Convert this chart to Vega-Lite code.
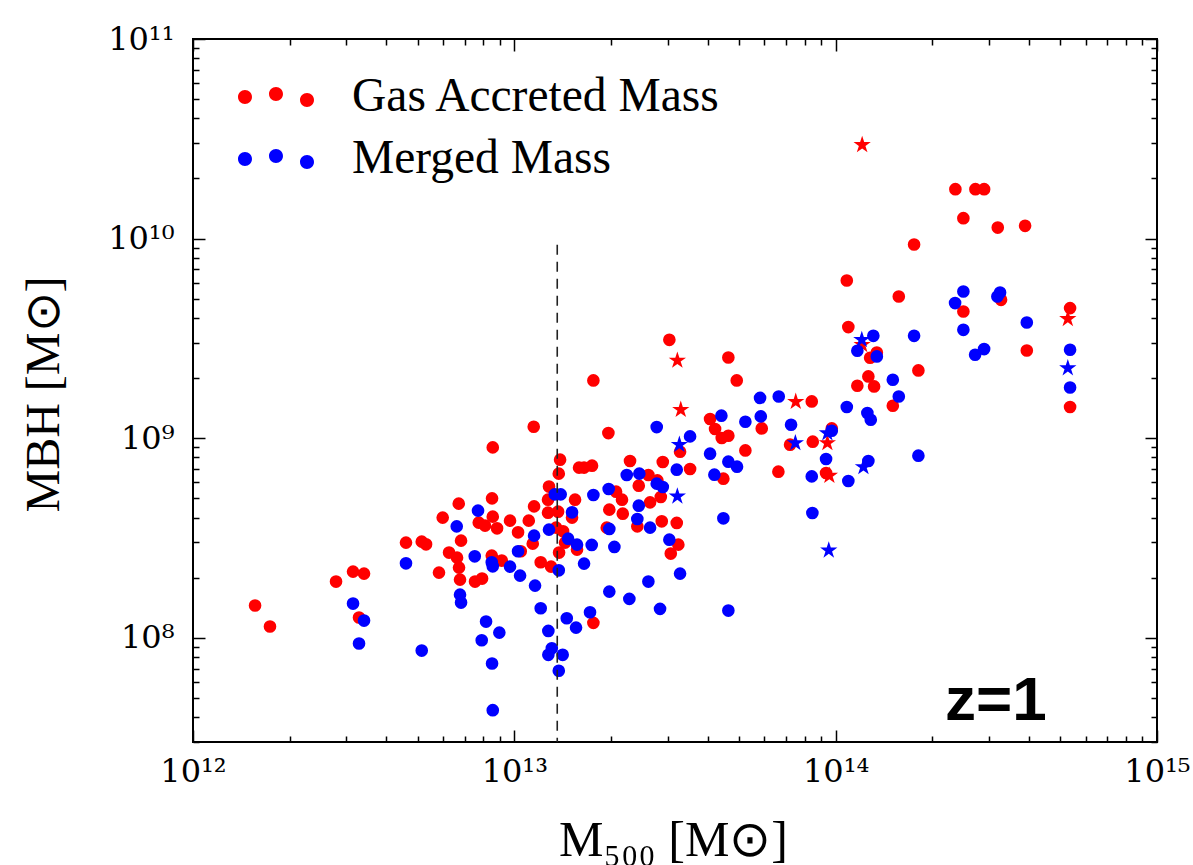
{
  "$schema": "https://vega.github.io/schema/vega-lite/v6.json",
  "width": 964,
  "height": 703,
  "autosize": {"type": "none"},
  "padding": {"left": 193, "top": 39, "right": 36, "bottom": 123},
  "background": "white",
  "config": {
    "view": {"stroke": "black", "strokeWidth": 2},
    "axis": {"grid": false, "ticks": true, "domain": false, "offset": -12, "tickSize": 12, "tickColor": "black", "tickWidth": 1.5, "tickOpacity": 1, "labelFont": "DejaVu Serif", "titleFont": "Liberation Serif", "labelColor": "black", "titleColor": "black", "titleFontWeight": "normal"}
  },
  "datasets": {
    "pts": [
      {"m500":1.56e12,"mbh":1.449e8,"series":"Gas Accreted Mass","marker":"circle"},
      {"m500":1.736e12,"mbh":1.138e8,"series":"Gas Accreted Mass","marker":"circle"},
      {"m500":2.787e12,"mbh":1.91e8,"series":"Gas Accreted Mass","marker":"circle"},
      {"m500":3.148e12,"mbh":2.143e8,"series":"Gas Accreted Mass","marker":"circle"},
      {"m500":3.406e12,"mbh":2.094e8,"series":"Gas Accreted Mass","marker":"circle"},
      {"m500":3.286e12,"mbh":1.262e8,"series":"Gas Accreted Mass","marker":"circle"},
      {"m500":1.149e13,"mbh":1.14e9,"series":"Gas Accreted Mass","marker":"circle"},
      {"m500":8.568e12,"mbh":8.985e8,"series":"Gas Accreted Mass","marker":"circle"},
      {"m500":1.388e13,"mbh":7.798e8,"series":"Gas Accreted Mass","marker":"circle"},
      {"m500":1.375e13,"mbh":6.637e8,"series":"Gas Accreted Mass","marker":"circle"},
      {"m500":1.282e13,"mbh":5.715e8,"series":"Gas Accreted Mass","marker":"circle"},
      {"m500":1.59e13,"mbh":7.112e8,"series":"Gas Accreted Mass","marker":"circle"},
      {"m500":6.714e12,"mbh":4.695e8,"series":"Gas Accreted Mass","marker":"circle"},
      {"m500":8.524e12,"mbh":4.989e8,"series":"Gas Accreted Mass","marker":"circle"},
      {"m500":1.152e13,"mbh":4.55e8,"series":"Gas Accreted Mass","marker":"circle"},
      {"m500":1.273e13,"mbh":4.915e8,"series":"Gas Accreted Mass","marker":"circle"},
      {"m500":5.985e12,"mbh":3.995e8,"series":"Gas Accreted Mass","marker":"circle"},
      {"m500":8.568e12,"mbh":4.041e8,"series":"Gas Accreted Mass","marker":"circle"},
      {"m500":7.749e12,"mbh":3.771e8,"series":"Gas Accreted Mass","marker":"circle"},
      {"m500":8.107e12,"mbh":3.642e8,"series":"Gas Accreted Mass","marker":"circle"},
      {"m500":8.836e12,"mbh":3.53e8,"series":"Gas Accreted Mass","marker":"circle"},
      {"m500":9.696e12,"mbh":3.858e8,"series":"Gas Accreted Mass","marker":"circle"},
      {"m500":1.109e13,"mbh":3.858e8,"series":"Gas Accreted Mass","marker":"circle"},
      {"m500":1.027e13,"mbh":3.372e8,"series":"Gas Accreted Mass","marker":"circle"},
      {"m500":1.273e13,"mbh":4.23e8,"series":"Gas Accreted Mass","marker":"circle"},
      {"m500":1.545e13,"mbh":4.915e8,"series":"Gas Accreted Mass","marker":"circle"},
      {"m500":1.512e13,"mbh":3.995e8,"series":"Gas Accreted Mass","marker":"circle"},
      {"m500":4.601e12,"mbh":2.994e8,"series":"Gas Accreted Mass","marker":"circle"},
      {"m500":5.15e12,"mbh":3.028e8,"series":"Gas Accreted Mass","marker":"circle"},
      {"m500":5.312e12,"mbh":2.935e8,"series":"Gas Accreted Mass","marker":"circle"},
      {"m500":6.826e12,"mbh":3.063e8,"series":"Gas Accreted Mass","marker":"circle"},
      {"m500":1.141e13,"mbh":2.959e8,"series":"Gas Accreted Mass","marker":"circle"},
      {"m500":1.418e13,"mbh":3.411e8,"series":"Gas Accreted Mass","marker":"circle"},
      {"m500":1.438e13,"mbh":2.994e8,"series":"Gas Accreted Mass","marker":"circle"},
      {"m500":6.264e12,"mbh":2.669e8,"series":"Gas Accreted Mass","marker":"circle"},
      {"m500":6.633e12,"mbh":2.518e8,"series":"Gas Accreted Mass","marker":"circle"},
      {"m500":8.506e12,"mbh":2.577e8,"series":"Gas Accreted Mass","marker":"circle"},
      {"m500":9.138e12,"mbh":2.434e8,"series":"Gas Accreted Mass","marker":"circle"},
      {"m500":1.047e13,"mbh":2.709e8,"series":"Gas Accreted Mass","marker":"circle"},
      {"m500":1.378e13,"mbh":2.669e8,"series":"Gas Accreted Mass","marker":"circle"},
      {"m500":1.208e13,"mbh":2.386e8,"series":"Gas Accreted Mass","marker":"circle"},
      {"m500":1.301e13,"mbh":2.27e8,"series":"Gas Accreted Mass","marker":"circle"},
      {"m500":6.728e12,"mbh":2.244e8,"series":"Gas Accreted Mass","marker":"circle"},
      {"m500":5.828e12,"mbh":2.118e8,"series":"Gas Accreted Mass","marker":"circle"},
      {"m500":6.776e12,"mbh":1.954e8,"series":"Gas Accreted Mass","marker":"circle"},
      {"m500":7.546e12,"mbh":1.91e8,"series":"Gas Accreted Mass","marker":"circle"},
      {"m500":7.935e12,"mbh":1.977e8,"series":"Gas Accreted Mass","marker":"circle"},
      {"m500":1.567e13,"mbh":2.762e8,"series":"Gas Accreted Mass","marker":"circle"},
      {"m500":3.037e13,"mbh":3.109e9,"series":"Gas Accreted Mass","marker":"circle"},
      {"m500":4.635e13,"mbh":2.536e9,"series":"Gas Accreted Mass","marker":"circle"},
      {"m500":4.922e13,"mbh":1.945e9,"series":"Gas Accreted Mass","marker":"circle"},
      {"m500":1.762e13,"mbh":1.945e9,"series":"Gas Accreted Mass","marker":"circle"},
      {"m500":1.962e13,"mbh":1.06e9,"series":"Gas Accreted Mass","marker":"circle"},
      {"m500":4.066e13,"mbh":1.246e9,"series":"Gas Accreted Mass","marker":"circle"},
      {"m500":4.214e13,"mbh":1.111e9,"series":"Gas Accreted Mass","marker":"circle"},
      {"m500":4.421e13,"mbh":1.001e9,"series":"Gas Accreted Mass","marker":"circle"},
      {"m500":4.635e13,"mbh":1.028e9,"series":"Gas Accreted Mass","marker":"circle"},
      {"m500":3.279e13,"mbh":8.551e8,"series":"Gas Accreted Mass","marker":"circle"},
      {"m500":5.236e13,"mbh":8.677e8,"series":"Gas Accreted Mass","marker":"circle"},
      {"m500":3.523e13,"mbh":7.004e8,"series":"Gas Accreted Mass","marker":"circle"},
      {"m500":4.472e13,"mbh":6.263e8,"series":"Gas Accreted Mass","marker":"circle"},
      {"m500":2.291e13,"mbh":7.68e8,"series":"Gas Accreted Mass","marker":"circle"},
      {"m500":2.897e13,"mbh":7.592e8,"series":"Gas Accreted Mass","marker":"circle"},
      {"m500":1.648e13,"mbh":7.112e8,"series":"Gas Accreted Mass","marker":"circle"},
      {"m500":1.745e13,"mbh":7.275e8,"series":"Gas Accreted Mass","marker":"circle"},
      {"m500":2.613e13,"mbh":6.535e8,"series":"Gas Accreted Mass","marker":"circle"},
      {"m500":2.787e13,"mbh":6.141e8,"series":"Gas Accreted Mass","marker":"circle"},
      {"m500":2.439e13,"mbh":5.777e8,"series":"Gas Accreted Mass","marker":"circle"},
      {"m500":2.073e13,"mbh":5.391e8,"series":"Gas Accreted Mass","marker":"circle"},
      {"m500":2.163e13,"mbh":4.915e8,"series":"Gas Accreted Mass","marker":"circle"},
      {"m500":1.975e13,"mbh":4.38e8,"series":"Gas Accreted Mass","marker":"circle"},
      {"m500":2.175e13,"mbh":4.182e8,"series":"Gas Accreted Mass","marker":"circle"},
      {"m500":2.645e13,"mbh":4.764e8,"series":"Gas Accreted Mass","marker":"circle"},
      {"m500":2.856e13,"mbh":5.071e8,"series":"Gas Accreted Mass","marker":"circle"},
      {"m500":2.414e13,"mbh":3.612e8,"series":"Gas Accreted Mass","marker":"circle"},
      {"m500":1.939e13,"mbh":3.559e8,"series":"Gas Accreted Mass","marker":"circle"},
      {"m500":2.876e13,"mbh":3.827e8,"series":"Gas Accreted Mass","marker":"circle"},
      {"m500":3.202e13,"mbh":3.757e8,"series":"Gas Accreted Mass","marker":"circle"},
      {"m500":3.239e13,"mbh":2.925e8,"series":"Gas Accreted Mass","marker":"circle"},
      {"m500":3.068e13,"mbh":2.638e8,"series":"Gas Accreted Mass","marker":"circle"},
      {"m500":1.762e13,"mbh":1.186e8,"series":"Gas Accreted Mass","marker":"circle"},
      {"m500":1.754e14,"mbh":9.333e9,"series":"Gas Accreted Mass","marker":"circle"},
      {"m500":1.083e14,"mbh":6.163e9,"series":"Gas Accreted Mass","marker":"circle"},
      {"m500":1.572e14,"mbh":5.124e9,"series":"Gas Accreted Mass","marker":"circle"},
      {"m500":1.095e14,"mbh":3.6e9,"series":"Gas Accreted Mass","marker":"circle"},
      {"m500":1.809e14,"mbh":2.183e9,"series":"Gas Accreted Mass","marker":"circle"},
      {"m500":1.264e14,"mbh":2.037e9,"series":"Gas Accreted Mass","marker":"circle"},
      {"m500":1.168e14,"mbh":1.83e9,"series":"Gas Accreted Mass","marker":"circle"},
      {"m500":1.317e14,"mbh":1.815e9,"series":"Gas Accreted Mass","marker":"circle"},
      {"m500":1.506e14,"mbh":1.453e9,"series":"Gas Accreted Mass","marker":"circle"},
      {"m500":1.28e14,"mbh":2.527e9,"series":"Gas Accreted Mass","marker":"circle"},
      {"m500":1.343e14,"mbh":2.686e9,"series":"Gas Accreted Mass","marker":"circle"},
      {"m500":8.426e13,"mbh":1.527e9,"series":"Gas Accreted Mass","marker":"circle"},
      {"m500":5.888e13,"mbh":1.118e9,"series":"Gas Accreted Mass","marker":"circle"},
      {"m500":7.213e13,"mbh":9.268e8,"series":"Gas Accreted Mass","marker":"circle"},
      {"m500":8.486e13,"mbh":9.594e8,"series":"Gas Accreted Mass","marker":"circle"},
      {"m500":9.725e13,"mbh":1.118e9,"series":"Gas Accreted Mass","marker":"circle"},
      {"m500":6.633e13,"mbh":6.787e8,"series":"Gas Accreted Mass","marker":"circle"},
      {"m500":9.335e13,"mbh":6.686e8,"series":"Gas Accreted Mass","marker":"circle"},
      {"m500":2.358e14,"mbh":1.768e10,"series":"Gas Accreted Mass","marker":"circle"},
      {"m500":2.722e14,"mbh":1.768e10,"series":"Gas Accreted Mass","marker":"circle"},
      {"m500":2.897e14,"mbh":1.768e10,"series":"Gas Accreted Mass","marker":"circle"},
      {"m500":2.497e14,"mbh":1.265e10,"series":"Gas Accreted Mass","marker":"circle"},
      {"m500":3.195e14,"mbh":1.135e10,"series":"Gas Accreted Mass","marker":"circle"},
      {"m500":3.886e14,"mbh":1.158e10,"series":"Gas Accreted Mass","marker":"circle"},
      {"m500":2.497e14,"mbh":4.309e9,"series":"Gas Accreted Mass","marker":"circle"},
      {"m500":3.271e14,"mbh":4.932e9,"series":"Gas Accreted Mass","marker":"circle"},
      {"m500":5.364e14,"mbh":4.481e9,"series":"Gas Accreted Mass","marker":"circle"},
      {"m500":3.934e14,"mbh":2.749e9,"series":"Gas Accreted Mass","marker":"circle"},
      {"m500":5.364e14,"mbh":1.431e9,"series":"Gas Accreted Mass","marker":"circle"},
      {"m500":1.368e13,"mbh":4.28e8,"series":"Gas Accreted Mass","marker":"circle"},
      {"m500":1.349e13,"mbh":3.559e8,"series":"Gas Accreted Mass","marker":"circle"},
      {"m500":3.216e13,"mbh":2.449e9,"series":"Gas Accreted Mass","marker":"star"},
      {"m500":3.296e13,"mbh":1.388e9,"series":"Gas Accreted Mass","marker":"star"},
      {"m500":7.512e13,"mbh":1.522e9,"series":"Gas Accreted Mass","marker":"star"},
      {"m500":9.424e13,"mbh":9.452e8,"series":"Gas Accreted Mass","marker":"star"},
      {"m500":9.559e13,"mbh":6.482e8,"series":"Gas Accreted Mass","marker":"star"},
      {"m500":1.209e14,"mbh":2.935e9,"series":"Gas Accreted Mass","marker":"star"},
      {"m500":1.209e14,"mbh":2.946e10,"series":"Gas Accreted Mass","marker":"star"},
      {"m500":5.278e14,"mbh":3.961e9,"series":"Gas Accreted Mass","marker":"star"},
      {"m500":3.148e12,"mbh":1.482e8,"series":"Merged Mass","marker":"circle"},
      {"m500":3.406e12,"mbh":1.218e8,"series":"Merged Mass","marker":"circle"},
      {"m500":3.286e12,"mbh":9.344e7,"series":"Merged Mass","marker":"circle"},
      {"m500":1.336e13,"mbh":5.225e8,"series":"Merged Mass","marker":"circle"},
      {"m500":1.394e13,"mbh":5.225e8,"series":"Merged Mass","marker":"circle"},
      {"m500":7.709e12,"mbh":4.33e8,"series":"Merged Mass","marker":"circle"},
      {"m500":6.618e12,"mbh":3.612e8,"series":"Merged Mass","marker":"circle"},
      {"m500":1.512e13,"mbh":4.246e8,"series":"Merged Mass","marker":"circle"},
      {"m500":1.282e13,"mbh":3.478e8,"series":"Merged Mass","marker":"circle"},
      {"m500":1.152e13,"mbh":3.245e8,"series":"Merged Mass","marker":"circle"},
      {"m500":1.47e13,"mbh":3.134e8,"series":"Merged Mass","marker":"circle"},
      {"m500":1.567e13,"mbh":2.925e8,"series":"Merged Mass","marker":"circle"},
      {"m500":1.027e13,"mbh":2.709e8,"series":"Merged Mass","marker":"circle"},
      {"m500":4.601e12,"mbh":2.358e8,"series":"Merged Mass","marker":"circle"},
      {"m500":7.53e12,"mbh":2.556e8,"series":"Merged Mass","marker":"circle"},
      {"m500":8.506e12,"mbh":2.386e8,"series":"Merged Mass","marker":"circle"},
      {"m500":8.568e12,"mbh":2.278e8,"series":"Merged Mass","marker":"circle"},
      {"m500":9.696e12,"mbh":2.27e8,"series":"Merged Mass","marker":"circle"},
      {"m500":1.042e13,"mbh":2.046e8,"series":"Merged Mass","marker":"circle"},
      {"m500":1.375e13,"mbh":2.175e8,"series":"Merged Mass","marker":"circle"},
      {"m500":1.648e13,"mbh":2.35e8,"series":"Merged Mass","marker":"circle"},
      {"m500":1.16e13,"mbh":1.823e8,"series":"Merged Mass","marker":"circle"},
      {"m500":6.776e12,"mbh":1.643e8,"series":"Merged Mass","marker":"circle"},
      {"m500":6.826e12,"mbh":1.499e8,"series":"Merged Mass","marker":"circle"},
      {"m500":1.208e13,"mbh":1.404e8,"series":"Merged Mass","marker":"circle"},
      {"m500":1.456e13,"mbh":1.251e8,"series":"Merged Mass","marker":"circle"},
      {"m500":1.556e13,"mbh":1.123e8,"series":"Merged Mass","marker":"circle"},
      {"m500":8.166e12,"mbh":1.204e8,"series":"Merged Mass","marker":"circle"},
      {"m500":8.981e12,"mbh":1.06e8,"series":"Merged Mass","marker":"circle"},
      {"m500":7.916e12,"mbh":9.705e7,"series":"Merged Mass","marker":"circle"},
      {"m500":1.276e13,"mbh":1.081e8,"series":"Merged Mass","marker":"circle"},
      {"m500":1.308e13,"mbh":8.851e7,"series":"Merged Mass","marker":"circle"},
      {"m500":1.276e13,"mbh":8.204e7,"series":"Merged Mass","marker":"circle"},
      {"m500":1.414e13,"mbh":8.204e7,"series":"Merged Mass","marker":"circle"},
      {"m500":5.15e12,"mbh":8.617e7,"series":"Merged Mass","marker":"circle"},
      {"m500":8.524e12,"mbh":7.419e7,"series":"Merged Mass","marker":"circle"},
      {"m500":1.375e13,"mbh":6.823e7,"series":"Merged Mass","marker":"circle"},
      {"m500":8.568e12,"mbh":4.33e7,"series":"Merged Mass","marker":"circle"},
      {"m500":2.774e13,"mbh":1.136e9,"series":"Merged Mass","marker":"circle"},
      {"m500":4.409e13,"mbh":1.295e9,"series":"Merged Mass","marker":"circle"},
      {"m500":5.236e13,"mbh":1.208e9,"series":"Merged Mass","marker":"circle"},
      {"m500":5.817e13,"mbh":1.59e9,"series":"Merged Mass","marker":"circle"},
      {"m500":5.847e13,"mbh":1.285e9,"series":"Merged Mass","marker":"circle"},
      {"m500":3.523e13,"mbh":1.02e9,"series":"Merged Mass","marker":"circle"},
      {"m500":4.066e13,"mbh":8.357e8,"series":"Merged Mass","marker":"circle"},
      {"m500":4.635e13,"mbh":7.618e8,"series":"Merged Mass","marker":"circle"},
      {"m500":4.932e13,"mbh":7.191e8,"series":"Merged Mass","marker":"circle"},
      {"m500":4.193e13,"mbh":6.557e8,"series":"Merged Mass","marker":"circle"},
      {"m500":3.202e13,"mbh":6.948e8,"series":"Merged Mass","marker":"circle"},
      {"m500":2.238e13,"mbh":6.535e8,"series":"Merged Mass","marker":"circle"},
      {"m500":2.449e13,"mbh":6.637e8,"series":"Merged Mass","marker":"circle"},
      {"m500":2.774e13,"mbh":5.913e8,"series":"Merged Mass","marker":"circle"},
      {"m500":2.897e13,"mbh":5.691e8,"series":"Merged Mass","marker":"circle"},
      {"m500":1.966e13,"mbh":5.561e8,"series":"Merged Mass","marker":"circle"},
      {"m500":1.762e13,"mbh":5.189e8,"series":"Merged Mass","marker":"circle"},
      {"m500":2.439e13,"mbh":4.586e8,"series":"Merged Mass","marker":"circle"},
      {"m500":2.414e13,"mbh":3.934e8,"series":"Merged Mass","marker":"circle"},
      {"m500":1.975e13,"mbh":3.506e8,"series":"Merged Mass","marker":"circle"},
      {"m500":2.645e13,"mbh":3.559e8,"series":"Merged Mass","marker":"circle"},
      {"m500":2.048e13,"mbh":2.849e8,"series":"Merged Mass","marker":"circle"},
      {"m500":1.741e13,"mbh":2.915e8,"series":"Merged Mass","marker":"circle"},
      {"m500":3.037e13,"mbh":3.098e8,"series":"Merged Mass","marker":"circle"},
      {"m500":3.279e13,"mbh":2.094e8,"series":"Merged Mass","marker":"circle"},
      {"m500":4.472e13,"mbh":3.962e8,"series":"Merged Mass","marker":"circle"},
      {"m500":2.613e13,"mbh":1.91e8,"series":"Merged Mass","marker":"circle"},
      {"m500":1.975e13,"mbh":1.701e8,"series":"Merged Mass","marker":"circle"},
      {"m500":2.28e13,"mbh":1.564e8,"series":"Merged Mass","marker":"circle"},
      {"m500":2.841e13,"mbh":1.394e8,"series":"Merged Mass","marker":"circle"},
      {"m500":4.635e13,"mbh":1.367e8,"series":"Merged Mass","marker":"circle"},
      {"m500":1.72e13,"mbh":1.34e8,"series":"Merged Mass","marker":"circle"},
      {"m500":6.651e13,"mbh":1.617e9,"series":"Merged Mass","marker":"circle"},
      {"m500":7.264e13,"mbh":1.167e9,"series":"Merged Mass","marker":"circle"},
      {"m500":9.725e13,"mbh":1.089e9,"series":"Merged Mass","marker":"circle"},
      {"m500":9.335e13,"mbh":7.859e8,"series":"Merged Mass","marker":"circle"},
      {"m500":8.426e13,"mbh":6.43e8,"series":"Merged Mass","marker":"circle"},
      {"m500":1.095e14,"mbh":6.099e8,"series":"Merged Mass","marker":"circle"},
      {"m500":1.083e14,"mbh":1.431e9,"series":"Merged Mass","marker":"circle"},
      {"m500":1.255e14,"mbh":1.336e9,"series":"Merged Mass","marker":"circle"},
      {"m500":1.286e14,"mbh":1.236e9,"series":"Merged Mass","marker":"circle"},
      {"m500":1.264e14,"mbh":7.68e8,"series":"Merged Mass","marker":"circle"},
      {"m500":8.463e13,"mbh":4.216e8,"series":"Merged Mass","marker":"circle"},
      {"m500":1.31e14,"mbh":3.256e9,"series":"Merged Mass","marker":"circle"},
      {"m500":1.168e14,"mbh":2.74e9,"series":"Merged Mass","marker":"circle"},
      {"m500":1.343e14,"mbh":2.566e9,"series":"Merged Mass","marker":"circle"},
      {"m500":1.754e14,"mbh":3.256e9,"series":"Merged Mass","marker":"circle"},
      {"m500":1.506e14,"mbh":1.961e9,"series":"Merged Mass","marker":"circle"},
      {"m500":1.572e14,"mbh":1.617e9,"series":"Merged Mass","marker":"circle"},
      {"m500":1.809e14,"mbh":8.167e8,"series":"Merged Mass","marker":"circle"},
      {"m500":2.497e14,"mbh":5.428e9,"series":"Merged Mass","marker":"circle"},
      {"m500":2.353e14,"mbh":4.749e9,"series":"Merged Mass","marker":"circle"},
      {"m500":2.497e14,"mbh":3.489e9,"series":"Merged Mass","marker":"circle"},
      {"m500":3.248e14,"mbh":5.366e9,"series":"Merged Mass","marker":"circle"},
      {"m500":3.186e14,"mbh":5.124e9,"series":"Merged Mass","marker":"circle"},
      {"m500":3.934e14,"mbh":3.796e9,"series":"Merged Mass","marker":"circle"},
      {"m500":2.716e14,"mbh":2.616e9,"series":"Merged Mass","marker":"circle"},
      {"m500":2.897e14,"mbh":2.794e9,"series":"Merged Mass","marker":"circle"},
      {"m500":5.364e14,"mbh":2.772e9,"series":"Merged Mass","marker":"circle"},
      {"m500":5.364e14,"mbh":1.794e9,"series":"Merged Mass","marker":"circle"},
      {"m500":3.263e13,"mbh":9.268e8,"series":"Merged Mass","marker":"star"},
      {"m500":3.216e13,"mbh":5.106e8,"series":"Merged Mass","marker":"star"},
      {"m500":7.492e13,"mbh":9.452e8,"series":"Merged Mass","marker":"star"},
      {"m500":9.424e13,"mbh":1.06e9,"series":"Merged Mass","marker":"star"},
      {"m500":1.22e14,"mbh":7.166e8,"series":"Merged Mass","marker":"star"},
      {"m500":9.518e13,"mbh":2.74e8,"series":"Merged Mass","marker":"star"},
      {"m500":1.206e14,"mbh":3.109e9,"series":"Merged Mass","marker":"star"},
      {"m500":5.278e14,"mbh":2.244e9,"series":"Merged Mass","marker":"star"}
    ]
  },
  "layer": [
    {
      "data": {"name": "pts"},
      "mark": {"type": "point", "filled": true, "opacity": 1, "strokeWidth": 0},
      "encoding": {
        "x": {"field": "m500", "type": "quantitative",
          "scale": {"type": "log", "domain": [1e12, 1e15], "nice": false},
          "axis": {"orient": "bottom",
            "values": [1e12,2e12,3e12,4e12,5e12,6e12,7e12,8e12,9e12,1e13,2e13,3e13,4e13,5e13,6e13,7e13,8e13,9e13,1e14,2e14,3e14,4e14,5e14,6e14,7e14,8e14,9e14,1e15],
            "labelExpr": "datum.value == 1e12 ? '10¹²' : datum.value == 1e13 ? '10¹³' : datum.value == 1e14 ? '10¹⁴' : datum.value == 1e15 ? '10¹⁵' : ''",
            "tickDash": {"condition": {"test": "datum.value == 1e12 || datum.value == 1e13 || datum.value == 1e14 || datum.value == 1e15", "value": [20]}, "value": [0, 6, 6]},
            "labelFontSize": 32, "labelPadding": 14, "labelOverlap": false, "labelFlush": false,
            "title": "M₅₀₀ [M⊙]", "titleFontSize": 50, "titleX": 480, "titleY": 125, "titleBaseline": "alphabetic", "titleAlign": "center"}},
        "y": {"field": "mbh", "type": "quantitative",
          "scale": {"type": "log", "domain": [3e7, 1e11], "nice": false},
          "axis": {"orient": "left",
            "values": [3e7,4e7,5e7,6e7,7e7,8e7,9e7,1e8,2e8,3e8,4e8,5e8,6e8,7e8,8e8,9e8,1e9,2e9,3e9,4e9,5e9,6e9,7e9,8e9,9e9,1e10,2e10,3e10,4e10,5e10,6e10,7e10,8e10,9e10,1e11],
            "labelExpr": "datum.value == 1e8 ? '10⁸' : datum.value == 1e9 ? '10⁹' : datum.value == 1e10 ? '10¹⁰' : datum.value == 1e11 ? '10¹¹' : ''",
            "tickDash": {"condition": {"test": "datum.value == 1e8 || datum.value == 1e9 || datum.value == 1e10 || datum.value == 1e11", "value": [20]}, "value": [0, 6, 6]},
            "labelFontSize": 32, "labelPadding": 19, "labelOverlap": false, "labelFlush": false,
            "title": "MBH [M⊙]", "titleFontSize": 48, "titleX": -161, "titleY": 355, "titleAngle": -90, "titleBaseline": "middle", "titleAlign": "center"}},
        "color": {"field": "series", "type": "nominal",
          "scale": {"domain": ["Gas Accreted Mass", "Merged Mass"], "range": ["#ff0000", "#0000ff"]},
          "legend": {"title": null, "orient": "none", "legendX": 45, "legendY": 20,
            "symbolType": "M-1,0a0.184,0.184 0 1,0 0.368,0a0.184,0.184 0 1,0 -0.368,0ZM-0.184,-0.079a0.184,0.184 0 1,0 0.368,0a0.184,0.184 0 1,0 -0.368,0ZM0.632,0.079a0.184,0.184 0 1,0 0.368,0a0.184,0.184 0 1,0 -0.368,0Z",
            "symbolSize": 5776, "symbolStrokeWidth": 0, "symbolOpacity": 1,
            "labelFont": "Liberation Serif", "labelFontSize": 47.5, "labelColor": "black", "labelOffset": 38, "labelLimit": 0,
            "rowPadding": -11, "padding": 0}},
        "shape": {"field": "marker", "type": "nominal",
          "scale": {"domain": ["circle", "star"], "range": ["circle", "M0,-1L0.2245,-0.309L0.951,-0.309L0.363,0.118L0.588,0.809L0,0.382L-0.588,0.809L-0.363,0.118L-0.951,-0.309L-0.2245,-0.309Z"]},
          "legend": null},
        "size": {"field": "marker", "type": "ordinal",
          "scale": {"domain": ["circle", "star"], "range": [160, 330]},
          "legend": null}
      }
    },
    {
      "data": {"values": [{}]},
      "mark": {"type": "rule", "strokeDash": [10, 7], "color": "#222222", "strokeWidth": 1.6},
      "encoding": {
        "x": {"datum": 1.36e13, "type": "quantitative",
          "scale": {"type": "log", "domain": [1e12, 1e15], "nice": false},
          "axis": {"orient": "top",
            "values": [1e12,2e12,3e12,4e12,5e12,6e12,7e12,8e12,9e12,1e13,2e13,3e13,4e13,5e13,6e13,7e13,8e13,9e13,1e14,2e14,3e14,4e14,5e14,6e14,7e14,8e14,9e14,1e15],
            "labels": false, "title": null,
            "tickDash": {"condition": {"test": "datum.value == 1e12 || datum.value == 1e13 || datum.value == 1e14 || datum.value == 1e15", "value": [20]}, "value": [0, 6, 6]}}},
        "y": {"datum": 9.3e9, "type": "quantitative",
          "scale": {"type": "log", "domain": [3e7, 1e11], "nice": false},
          "axis": {"orient": "right",
            "values": [3e7,4e7,5e7,6e7,7e7,8e7,9e7,1e8,2e8,3e8,4e8,5e8,6e8,7e8,8e8,9e8,1e9,2e9,3e9,4e9,5e9,6e9,7e9,8e9,9e9,1e10,2e10,3e10,4e10,5e10,6e10,7e10,8e10,9e10,1e11],
            "labels": false, "title": null,
            "tickDash": {"condition": {"test": "datum.value == 1e8 || datum.value == 1e9 || datum.value == 1e10 || datum.value == 1e11", "value": [20]}, "value": [0, 6, 6]}}},
        "y2": {"datum": 3e7}
      }
    },
    {
      "data": {"values": [{}]},
      "mark": {"type": "text", "text": "z=1", "font": "Liberation Sans", "fontWeight": "bold", "fontSize": 62, "align": "left", "baseline": "alphabetic", "color": "black"},
      "encoding": {
        "x": {"datum": 2.19e14, "type": "quantitative", "scale": {"type": "log", "domain": [1e12, 1e15], "nice": false}, "axis": null},
        "y": {"datum": 3.85e7, "type": "quantitative", "scale": {"type": "log", "domain": [3e7, 1e11], "nice": false}, "axis": null}
      }
    }
  ],
  "resolve": {"axis": {"x": "independent", "y": "independent"}}
}
